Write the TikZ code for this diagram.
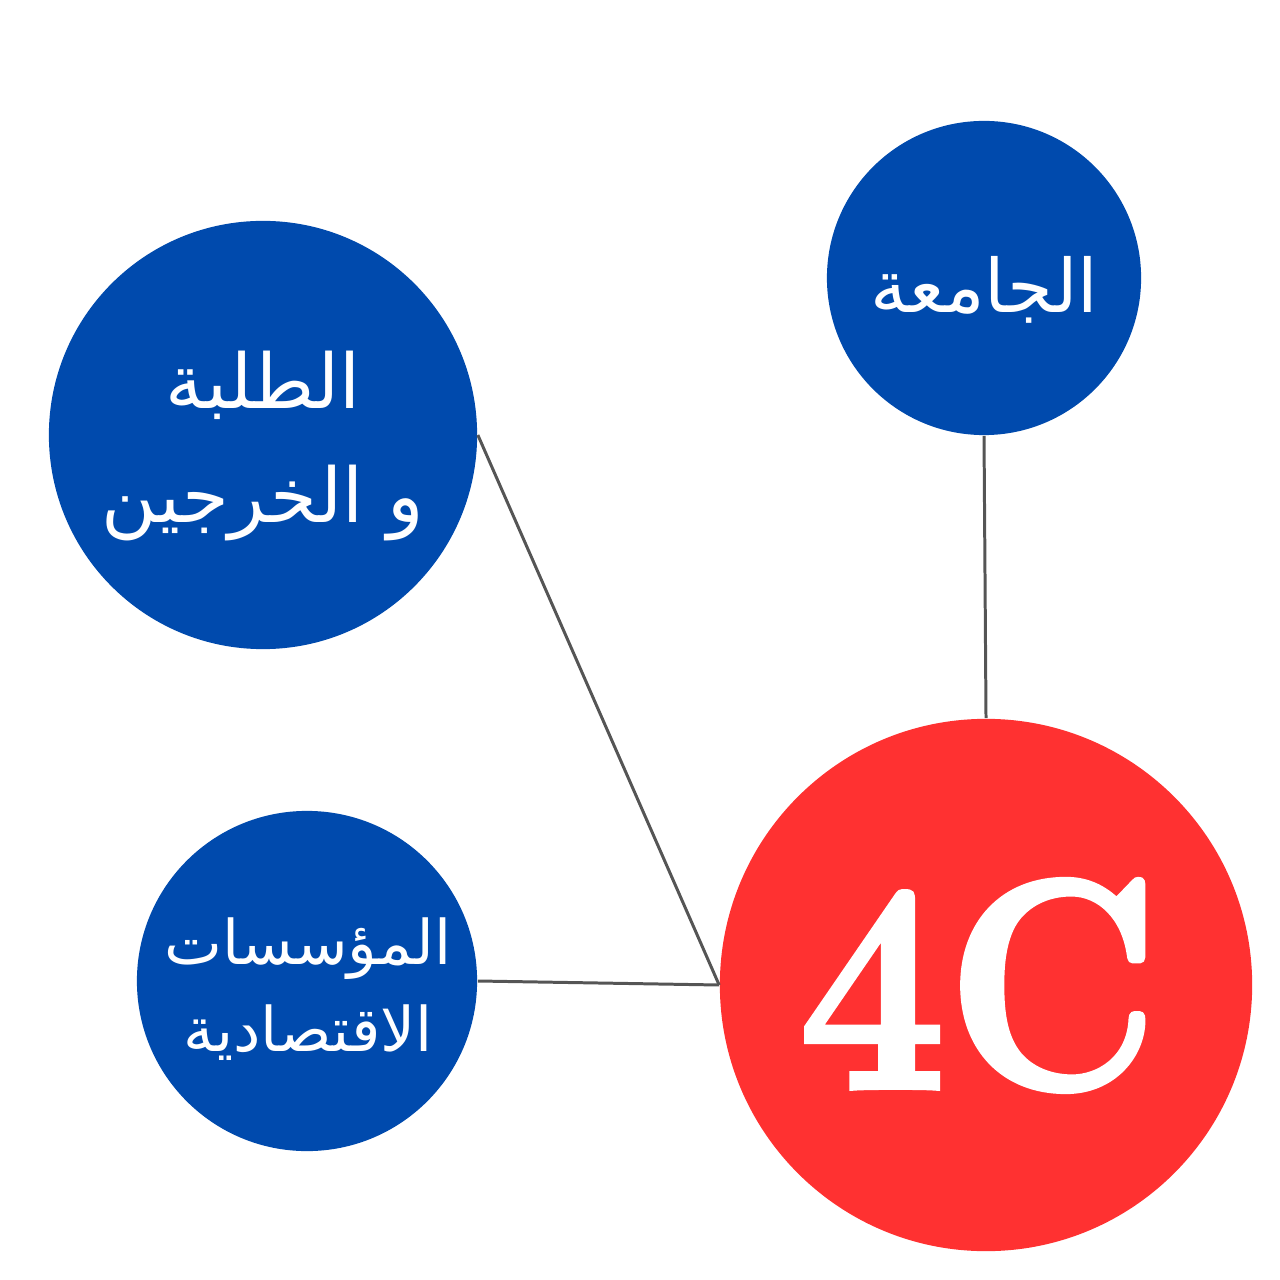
\documentclass[tikz,border=0pt]{standalone}
\usepackage{fontspec}
\newfontfamily\arabicfont[Script=Arabic]{DejaVu Sans}
\newfontfamily\fourfont{lmroman10-bold.otf}
\TeXXeTstate=1
\definecolor{cblue}{HTML}{004AAD}
\definecolor{cred}{HTML}{FF3131}
\definecolor{cline}{HTML}{555555}
\newcommand\heavytext[1]{\special{pdf:literal direct q 2 Tr 1.6 w 1 1 1 RG}#1\special{pdf:literal direct Q}}
\tikzset{
  bub/.style={circle, fill=cblue, draw=none, inner sep=0pt},
  redbub/.style={circle, fill=cred, draw=none, inner sep=0pt},
  link/.style={draw=cline, line width=0.85pt},
  lbl/.style={text=white, align=center, inner sep=0pt},
}
\begin{document}
\begin{tikzpicture}[x=0.01cm, y=-0.01cm]
\useasboundingbox (0,0) rectangle (1280,1280);
\node[bub, minimum size=3.14cm] (uni) at (984,278) {};
\node[bub, minimum size=4.28cm] (stud) at (263,435) {};
\node[bub, minimum size=3.40cm] (eco) at (307,981) {};
\node[redbub, minimum size=5.32cm] (four) at (986,985) {};
\draw[link] (stud.east) -- (four.west);
\draw[link] (eco.east) -- (four.west);
\draw[link] (uni.south) -- (four.north);
\node[lbl, font=\arabicfont\fontsize{21}{28}\selectfont] (unit) at (984,290) {\beginR الجامعة\endR};
\node[lbl, font=\arabicfont\fontsize{21.5}{32.4}\selectfont] (studt) at (263,446) {\beginR الطلبة\endR\\\beginR و الخرجين\endR};
\node[lbl, font=\arabicfont\fontsize{17.5}{24.8}\selectfont] (ecot) at (308,989) {\beginR المؤسسات\endR\\\beginR الاقتصادية\endR};
\node[lbl, anchor=base, font=\fourfont\fontsize{85}{90}\selectfont] (fourt) at (979,1088) {\scalebox{0.86}[1]{\heavytext{4C}}};
\end{tikzpicture}
\end{document}
